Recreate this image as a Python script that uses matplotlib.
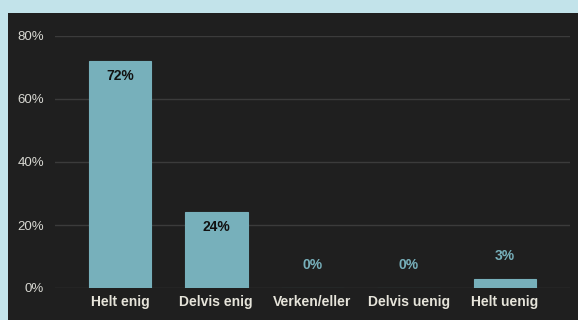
import matplotlib.pyplot as plt
from matplotlib.patches import Rectangle

categories = ["Helt enig", "Delvis enig", "Verken/eller", "Delvis uenig", "Helt uenig"]
shares = [72, 24, 0, 0, 3]
y_ticks = [0, 20, 40, 60, 80]

frame_color = "#c2e3ea"
panel_color = "#1f1f1f"
bar_color = "#77b0bb"
zero_color = "#36606a"
grid_color = "#3b3b3b"
tick_color = "#d8d8d2"

plt.rcParams["font.family"] = ["Liberation Sans", "DejaVu Sans"]

fig = plt.figure(figsize=(5.78, 3.2), dpi=100, facecolor=frame_color)
fig.patches.append(Rectangle((8 / 578, 0), 1, 1 - 13 / 320, transform=fig.transFigure,
                             facecolor=panel_color, edgecolor="none", zorder=-10))

ax = fig.add_axes([55 / 578, 32 / 320, 515 / 578, 252 / 320])
ax.set_facecolor("none")
ax.set_xlim(-0.675, 4.675)
ax.set_ylim(0, 80)

x = range(len(categories))
# empty categories still get a thin line on the baseline
edges = [bar_color if v > 0 else zero_color for v in shares]
ax.bar(x, shares, width=0.65, color=bar_color, edgecolor=edges, linewidth=0.8, zorder=2)

for xi, v in zip(x, shares):
    if v >= 10:
        ax.annotate(f"{v}%", (xi, v), xytext=(0, -15), textcoords="offset pixels",
                    ha="center", va="center", fontsize=10, fontweight="bold", color="#111111", zorder=3)
    else:
        ax.annotate(f"{v}%", (xi, v), xytext=(0, 23), textcoords="offset pixels",
                    ha="center", va="center", fontsize=10, fontweight="bold", color=bar_color, zorder=3)

ax.set_yticks(y_ticks)
ax.set_yticklabels([f"{t}%" for t in y_ticks])
ax.set_xticks(list(x))
ax.set_xticklabels(categories, fontweight="bold", fontsize=10, color="#e6e4da")
ax.tick_params(axis="y", length=0, pad=8, labelsize=9.5, labelcolor=tick_color)
ax.tick_params(axis="x", length=0, pad=5)
ax.grid(axis="y", color=grid_color, linewidth=1, zorder=1)
for spine in ax.spines.values():
    spine.set_visible(False)

fig.savefig("out.png", dpi=100, facecolor=frame_color)
